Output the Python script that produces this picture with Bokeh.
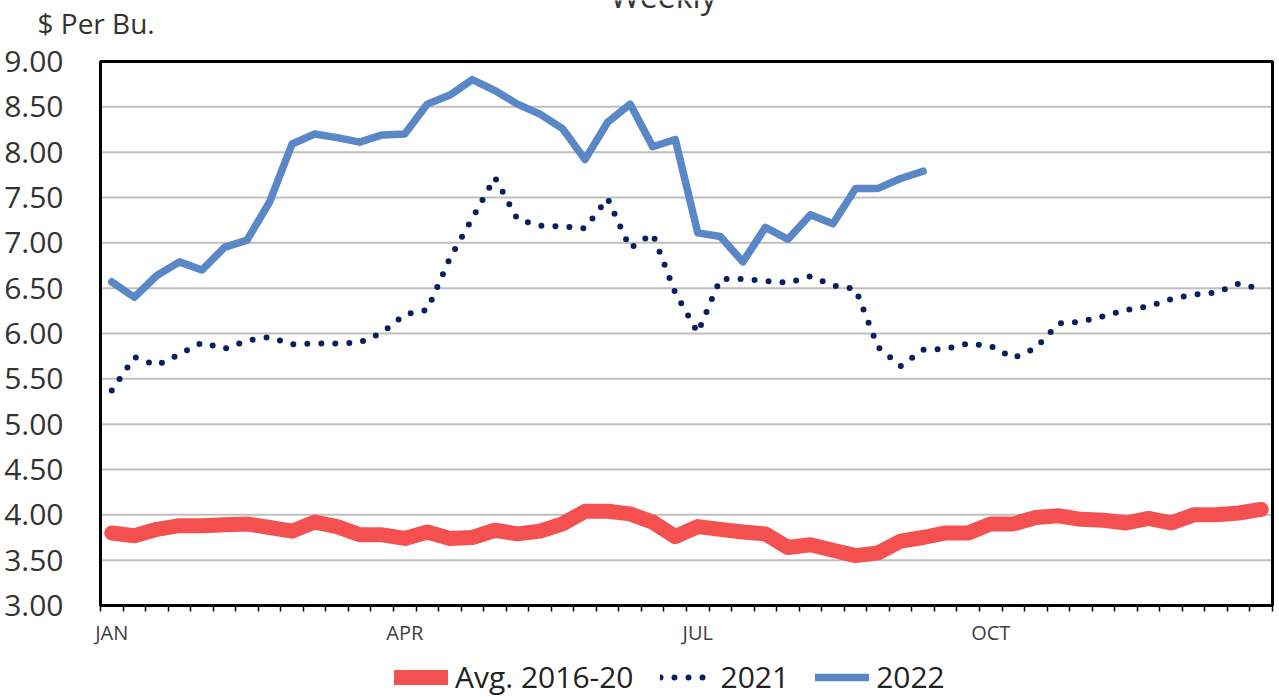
from bokeh.plotting import figure
from bokeh.models import Range1d, FixedTicker, NumeralTickFormatter, Legend, LegendItem
from bokeh.core.properties import value
from bokeh.embed import file_html
from bokeh.resources import INLINE

# ---------------- data ----------------
weeks = list(range(1, 53))

avg_2016_20 = [3.80, 3.77, 3.84, 3.88, 3.88, 3.89, 3.90, 3.86, 3.82, 3.92,
               3.87, 3.78, 3.78, 3.74, 3.81, 3.74, 3.75, 3.83, 3.79, 3.82,
               3.90, 4.04, 4.04, 4.01, 3.92, 3.76, 3.87, 3.84, 3.81, 3.79,
               3.64, 3.67, 3.61, 3.55, 3.58, 3.71, 3.75, 3.80, 3.80, 3.90,
               3.90, 3.97, 3.99, 3.95, 3.94, 3.91, 3.96, 3.91, 4.00, 4.00,
               4.02, 4.06]

y2021 = [5.37, 5.74, 5.65, 5.77, 5.90, 5.83, 5.92, 5.96, 5.88, 5.89,
         5.89, 5.90, 6.01, 6.21, 6.26, 6.83, 7.27, 7.72, 7.26, 7.19,
         7.18, 7.16, 7.49, 6.94, 7.10, 6.45, 6.01, 6.60, 6.60, 6.58,
         6.56, 6.63, 6.53, 6.49, 5.85, 5.64, 5.82, 5.83, 5.89, 5.86,
         5.73, 5.84, 6.11, 6.13, 6.19, 6.26, 6.30, 6.38, 6.43, 6.45,
         6.55, 6.49]

y2022 = [6.57, 6.40, 6.64, 6.79, 6.70, 6.95, 7.03, 7.45, 8.09, 8.20,
         8.16, 8.11, 8.19, 8.20, 8.53, 8.63, 8.80, 8.68, 8.53, 8.42,
         8.26, 7.92, 8.33, 8.53, 8.06, 8.14, 7.11, 7.07, 6.79, 7.17,
         7.04, 7.31, 7.21, 7.60, 7.60, 7.71, 7.79]

month_labels = ["JAN", "APR", "JUL", "OCT"]
month_weeks = [1, 14, 27, 40]

y_ticks = [3.0, 3.5, 4.0, 4.5, 5.0, 5.5, 6.0, 6.5, 7.0, 7.5, 8.0, 8.5, 9.0]

series_names = ["Avg. 2016-20", "2021", "2022"]
title_text = "Weekly"
unit_text = "$ Per Bu."

# ---------------- layout / styling ----------------
FONT = "Open Sans"
RED = "#F45050"
NAVY = "#0A1F5E"
BLUE = "#5A87C6"
GRID = "#BFBFBF"

W, H = 1278, 697                      # canvas
PLOT_L, PLOT_R = 100, 1272            # chart box in canvas pixels
PLOT_T, PLOT_B = 61, 605

n_weeks = len(weeks)
y_lo, y_hi = y_ticks[0], y_ticks[-1]
px_x = (PLOT_R - PLOT_L) / n_weeks    # pixels per week
px_y = (PLOT_B - PLOT_T) / (y_hi - y_lo)  # pixels per dollar

# the frame covers the whole canvas, the chart box sits inside it
x_range = Range1d(-PLOT_L / px_x, n_weeks + (W - PLOT_R) / px_x)
y_range = Range1d(y_lo - (H - PLOT_B) / px_y, y_hi + PLOT_T / px_y)


def dx(px):  # canvas x pixel -> data x
    return (px - PLOT_L) / px_x


def dy(py):  # canvas y pixel -> data y
    return y_hi + (PLOT_T - py) / px_y


p = figure(width=W, height=H, output_backend="svg", toolbar_location=None,
           x_range=x_range, y_range=y_range, min_border=0,
           background_fill_color="white", border_fill_color="white")
p.outline_line_color = None
p.xgrid.visible = False
p.ygrid.visible = False

# horizontal gridlines
p.segment(x0=[0] * len(y_ticks), x1=[n_weeks] * len(y_ticks), y0=y_ticks, y1=y_ticks,
          line_color=GRID, line_width=2)

x_all = [w - 0.5 for w in weeks]

r_avg = p.line(x_all, avg_2016_20, line_color=RED, line_width=15,
               line_cap="round", line_join="round")
r_21 = p.line(x_all, y2021, line_color=NAVY, line_width=6,
              line_dash="0 14", line_cap="round", line_join="round")
r_22 = p.line(x_all[:len(y2022)], y2022, line_color=BLUE, line_width=7.5,
              line_cap="round", line_join="round")

# chart border
p.quad(left=[0], right=[n_weeks], bottom=[y_lo], top=[y_hi],
       fill_color=None, line_color="black", line_width=3)

# y axis (fixed at the left edge of the chart box)
p.yaxis.fixed_location = 0
p.yaxis.bounds = (y_lo, y_hi)
p.yaxis.ticker = FixedTicker(ticks=y_ticks)
p.yaxis.formatter = NumeralTickFormatter(format="0.00")
p.yaxis.axis_line_color = None
p.yaxis.major_tick_line_color = None
p.yaxis.minor_tick_line_color = None
p.yaxis.major_label_text_font = FONT
p.yaxis.major_label_text_font_size = "30px"
p.yaxis.major_label_text_color = "#333333"
p.yaxis.major_label_standoff = 31

# x axis (fixed at the bottom edge of the chart box)
p.xaxis.fixed_location = y_lo
p.xaxis.bounds = (0, n_weeks)
p.xaxis.ticker = FixedTicker(ticks=[w - 0.5 for w in month_weeks],
                             minor_ticks=list(range(0, n_weeks + 1)))
p.xaxis.major_label_overrides = {w - 0.5: lab for w, lab in zip(month_weeks, month_labels)}
p.xaxis.axis_line_color = None
p.xaxis.major_tick_line_color = None
p.xaxis.minor_tick_line_color = "black"
p.xaxis.minor_tick_line_width = 1.5
p.xaxis.minor_tick_out = 6
p.xaxis.minor_tick_in = 0
p.xaxis.major_label_text_font = FONT
p.xaxis.major_label_text_font_size = "20px"
p.xaxis.major_label_text_color = "#404040"
p.xaxis.major_label_standoff = 7

# header texts
p.text(x=[dx(37)], y=[dy(22)], text=[unit_text], text_font=value(FONT),
       text_font_size="28px", text_color="#333333",
       text_baseline="alphabetic", text_align="left")
p.text(x=[dx(663)], y=[dy(-5)], text=[title_text], text_font=value(FONT),
       text_font_size="32px", text_color="#333333",
       text_baseline="alphabetic", text_align="center")

legend = Legend(items=[LegendItem(label=series_names[0], renderers=[r_avg]),
                       LegendItem(label=series_names[1], renderers=[r_21]),
                       LegendItem(label=series_names[2], renderers=[r_22])],
                orientation="horizontal", location=(394, 0),
                label_text_font=FONT, label_text_font_size="30px",
                label_text_color="#222222", glyph_width=54, glyph_height=30,
                label_standoff=7, spacing=26, padding=0, margin=0,
                border_line_color=None, background_fill_alpha=0)
p.add_layout(legend)

open("out.html", "w").write(file_html(p, INLINE))
